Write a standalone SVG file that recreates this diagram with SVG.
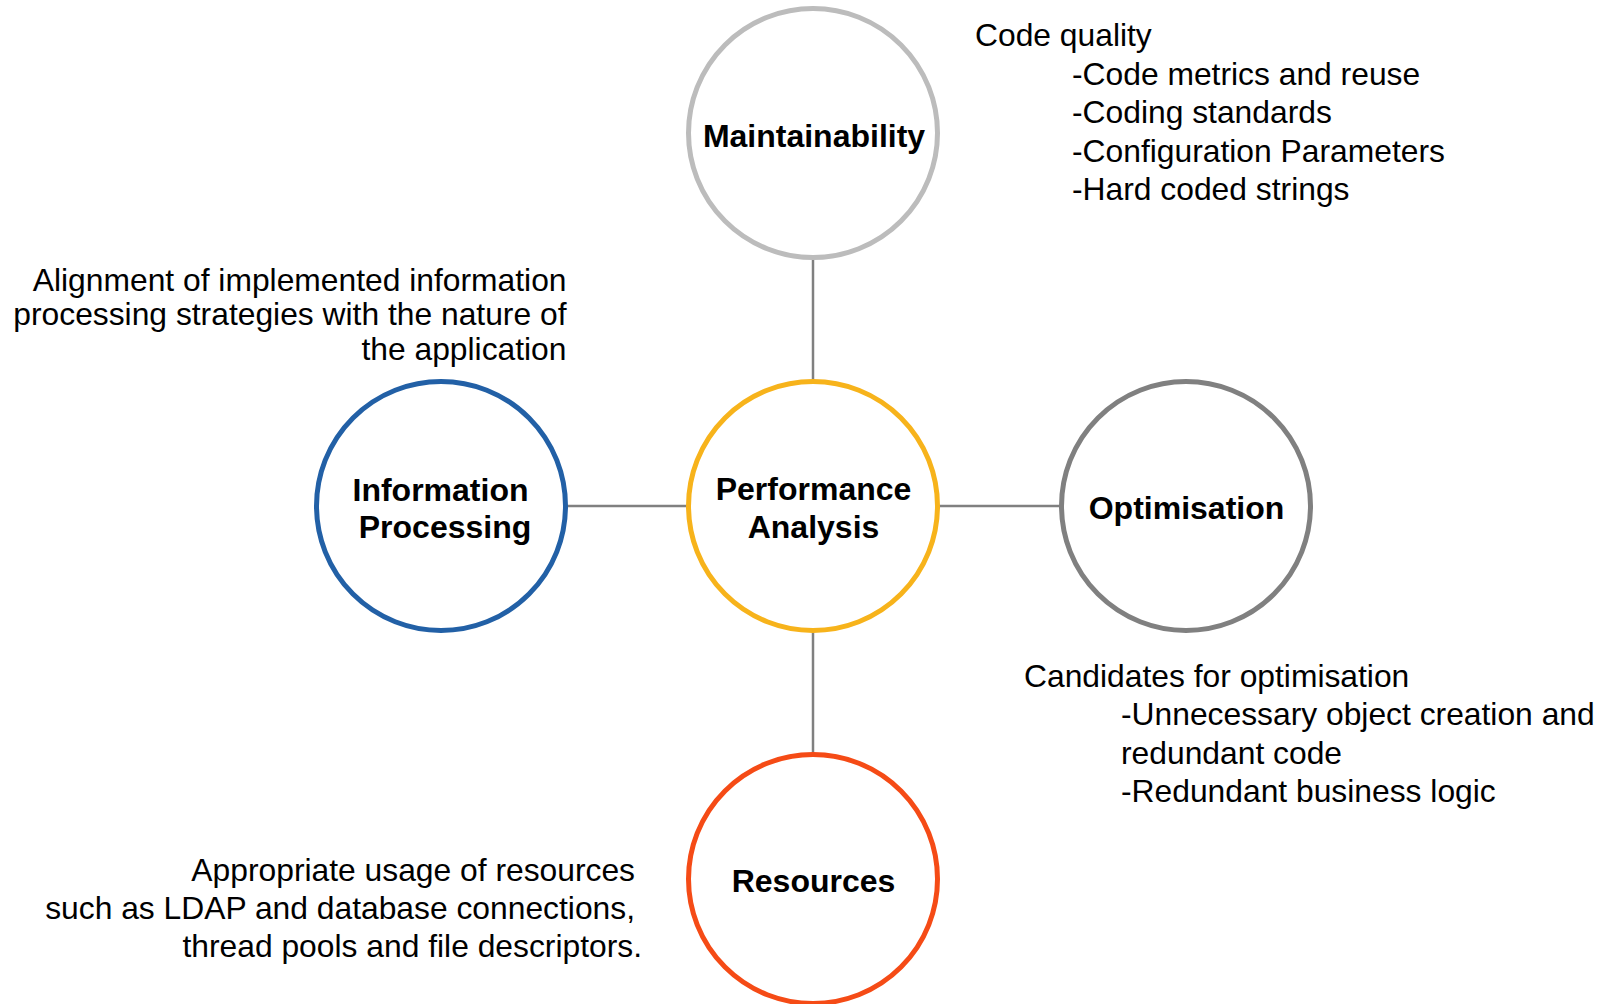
<svg xmlns="http://www.w3.org/2000/svg" width="1608" height="1004" viewBox="0 0 1608 1004">
<style>
.node circle{fill:#FFFFFF;stroke-width:5}
.lbl{font-family:"Liberation Sans",Arial,Helvetica,sans-serif;font-weight:bold;font-size:32px;fill:#000000;text-anchor:middle}
.txt{font-family:"Liberation Sans",Arial,Helvetica,sans-serif;font-size:31.8px;fill:#000000}
.end{text-anchor:end}
#connectors line{stroke:#808080;stroke-width:2.5}
</style>
<rect x="0" y="0" width="1608" height="1004" fill="#FFFFFF"/>
<g id="connectors">
<line x1="813" y1="259" x2="813" y2="382"/>
<line x1="567" y1="506" x2="689" y2="506"/>
<line x1="937" y1="506" x2="1061" y2="506"/>
<line x1="813" y1="630" x2="813" y2="755"/>
</g>
<g id="node-maintainability" class="node">
<circle cx="813" cy="133" r="124.5" stroke="#BCBCBC"/>
<text class="lbl" x="814" y="146.5">Maintainability</text>
</g>
<g id="node-information-processing" class="node">
<circle cx="441" cy="506" r="124.5" stroke="#2260A6"/>
<text class="lbl" x="440.5" y="501">Information</text>
<text class="lbl" x="445" y="538">Processing</text>
</g>
<g id="node-performance-analysis" class="node">
<circle cx="813" cy="506" r="124.5" stroke="#F7B31B"/>
<text class="lbl" x="813.5" y="500">Performance</text>
<text class="lbl" x="813.5" y="538">Analysis</text>
</g>
<g id="node-optimisation" class="node">
<circle cx="1186" cy="506" r="124.5" stroke="#808080"/>
<text class="lbl" x="1186.5" y="519">Optimisation</text>
</g>
<g id="node-resources" class="node">
<circle cx="813" cy="879" r="124.5" stroke="#F54B16"/>
<text class="lbl" x="813.5" y="892">Resources</text>
</g>
<g id="note-maintainability">
<text class="txt" x="975" y="46">Code quality</text>
<text class="txt" x="1072" y="84.5">-Code metrics and reuse</text>
<text class="txt" x="1072" y="123">-Coding standards</text>
<text class="txt" x="1072" y="161.5">-Configuration Parameters</text>
<text class="txt" x="1072" y="200">-Hard coded strings</text>
</g>
<g id="note-information-processing">
<text class="txt end" x="566.5" y="290.5">Alignment of implemented information</text>
<text class="txt end" x="566.5" y="325">processing strategies with the nature of</text>
<text class="txt end" x="566.5" y="359.5">the application</text>
</g>
<g id="note-optimisation">
<text class="txt" x="1024" y="687">Candidates for optimisation</text>
<text class="txt" x="1121" y="725">-Unnecessary object creation and</text>
<text class="txt" x="1121" y="764">redundant code</text>
<text class="txt" x="1121" y="802">-Redundant business logic</text>
</g>
<g id="note-resources">
<text class="txt end" x="635" y="881">Appropriate usage of resources</text>
<text class="txt end" x="635" y="919">such as LDAP and database connections,</text>
<text class="txt end" x="642" y="957">thread pools and file descriptors.</text>
</g>
</svg>
